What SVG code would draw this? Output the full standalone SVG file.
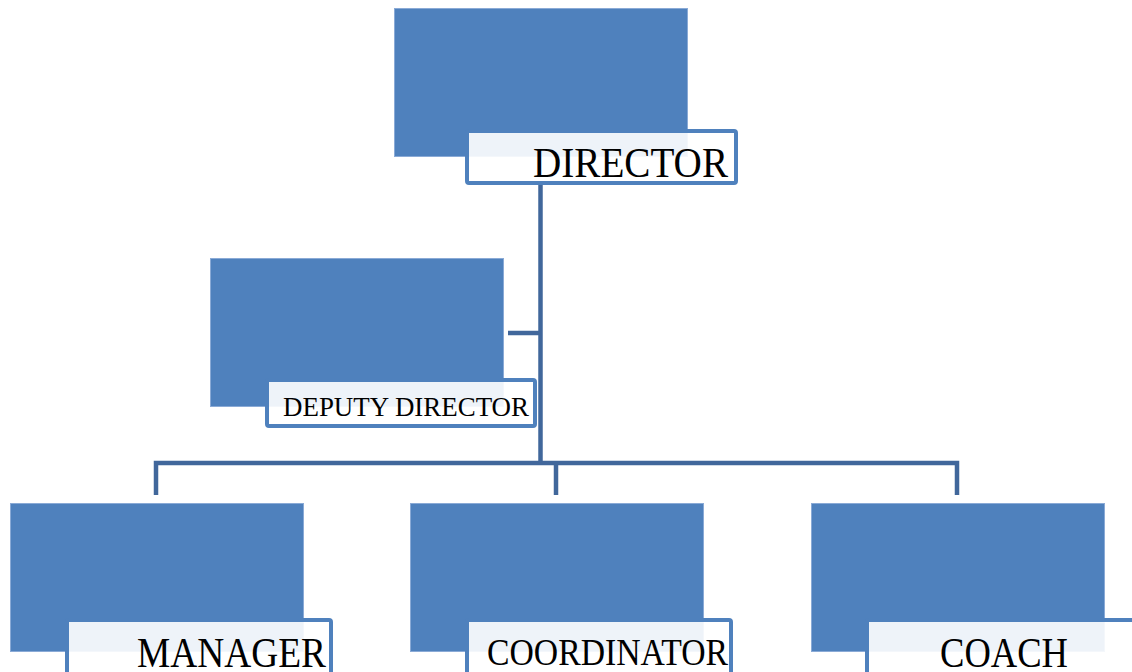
<svg xmlns="http://www.w3.org/2000/svg" width="1132" height="672" viewBox="0 0 1132 672">
<style>
.blk{fill:#4F81BD;stroke:#8AAAD6;stroke-width:1}
.lbl{fill:#FFFFFF;fill-opacity:0.9;stroke:#4F81BD;stroke-width:4}
.t{font-family:"Liberation Serif","DejaVu Serif",serif;fill:#000}
.c{fill:none;stroke:#41679B;stroke-width:4.5}
</style>
<rect width="1132" height="672" fill="#fff"/>
<g id="connectors">
<line class="c" x1="540.5" y1="184" x2="540.5" y2="465"/>
<line class="c" x1="508" y1="333" x2="540.5" y2="333"/>
<polyline class="c" points="156,495 156,463 957,463 957,495"/>
<line class="c" x1="556" y1="463" x2="556" y2="495"/>
</g>
<g id="director">
<rect class="blk" x="394.5" y="8.5" width="293" height="148"/>
<rect class="lbl" x="467" y="131" width="269" height="52" rx="2"/>
<text class="t" x="533" y="177" font-size="42" textLength="195" lengthAdjust="spacingAndGlyphs">DIRECTOR</text>
</g>
<g id="deputy">
<rect class="blk" x="210.5" y="258.5" width="293" height="148"/>
<rect class="lbl" x="267" y="380" width="268" height="46" rx="2"/>
<text class="t" x="283" y="416" font-size="28" textLength="246" lengthAdjust="spacingAndGlyphs">DEPUTY DIRECTOR</text>
</g>
<g id="manager">
<rect class="blk" x="10.5" y="503.5" width="293" height="148"/>
<rect class="lbl" x="67" y="620" width="264" height="60" rx="2"/>
<text class="t" x="137" y="667" font-size="42" textLength="189" lengthAdjust="spacingAndGlyphs">MANAGER</text>
</g>
<g id="coordinator">
<rect class="blk" x="410.5" y="503.5" width="293" height="148"/>
<rect class="lbl" x="467" y="620" width="264" height="60" rx="2"/>
<text class="t" x="487" y="665" font-size="38" textLength="241" lengthAdjust="spacingAndGlyphs">COORDINATOR</text>
</g>
<g id="coach">
<rect class="blk" x="811.5" y="503.5" width="293" height="148"/>
<rect class="lbl" x="867" y="620" width="280" height="60" rx="2"/>
<text class="t" x="940" y="667" font-size="42" textLength="128" lengthAdjust="spacingAndGlyphs">COACH</text>
</g>
</svg>
